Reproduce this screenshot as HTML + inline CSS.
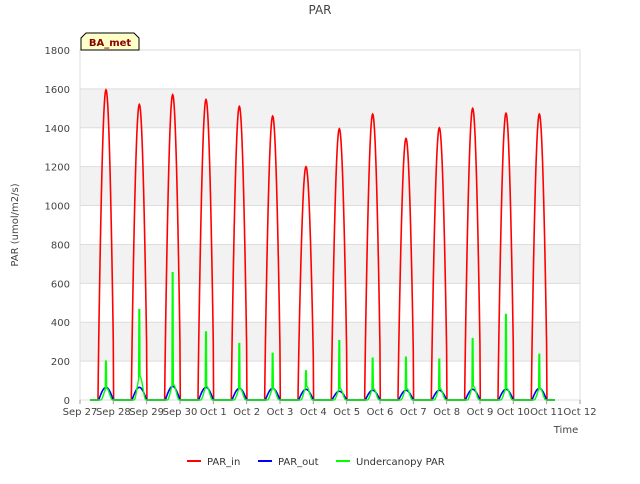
<!DOCTYPE html>
<html><head><meta charset="utf-8"><style>
body{margin:0;background:#fff;font-family:"DejaVu Sans","Liberation Sans",sans-serif}
</style></head><body>
<svg id="chart" width="640" height="480" viewBox="0 0 640 480" xmlns="http://www.w3.org/2000/svg">
<rect width="640" height="480" fill="#fff"/>
<text x="320" y="14" text-anchor="middle" font-size="12" fill="#444">PAR</text>
<g id="grid"></g>
<g id="series"></g>
<g id="axes"></g>
<text transform="translate(18,225) rotate(-90)" text-anchor="middle" font-size="10" fill="#444">PAR (umol/m2/s)</text>
<text x="566" y="433" text-anchor="middle" font-size="10" fill="#444">Time</text>
<g>
<path d="M81,50 L81,38 L86,33 L134,33 L139,38 L139,50 Z" fill="#ffffc8" stroke="#000" stroke-width="1"/>
<text x="110" y="46" text-anchor="middle" font-size="10" font-weight="bold" fill="#8b0000">BA_met</text>
</g>
<g>
<g><line x1="187" y1="461" x2="201" y2="461" stroke="#f00" stroke-width="2"/><text x="207" y="465" font-size="10" fill="#333">PAR_in</text></g>
<g><line x1="258" y1="461" x2="272" y2="461" stroke="#00f" stroke-width="2"/><text x="278" y="465" font-size="10" fill="#333">PAR_out</text></g>
<g><line x1="336" y1="461" x2="350" y2="461" stroke="#0f0" stroke-width="2"/><text x="356" y="465" font-size="10" fill="#333">Undercanopy PAR</text></g>
</g>
</svg>
<script>
const xTickLabels=["Sep 27","Sep 28","Sep 29","Sep 30","Oct 1","Oct 2","Oct 3","Oct 4","Oct 5","Oct 6","Oct 7","Oct 8","Oct 9","Oct 10","Oct 11","Oct 12"];
const yTicks=[0,200,400,600,800,1000,1200,1400,1600,1800];
const parInPeaks=[1595,1520,1570,1545,1510,1460,1200,1395,1470,1345,1400,1500,1475,1470];
const parOutPeaks=[65,65,70,65,60,60,55,45,50,50,50,55,55,60];
const underPeaks=[200,465,655,350,290,240,150,305,215,220,210,315,440,235];
const underBase=[60,120,80,70,60,60,70,60,60,60,60,70,60,60];
const NS="http://www.w3.org/2000/svg";
const X0=80,X1=580,Y0=400,Y1=50;
function xs(d){return X0+(X1-X0)*d/15;}
function ys(v){return Y0-(Y0-Y1)*v/1800;}
function mk(tag,attrs,parent){const e=document.createElementNS(NS,tag);for(const k in attrs)e.setAttribute(k,attrs[k]);parent.appendChild(e);return e;}
const grid=document.getElementById('grid'),axes=document.getElementById('axes'),ser=document.getElementById('series');
for(let i=0;i<yTicks.length-1;i++){
  if(i%2===1){const r=mk('rect',{x:X0,y:ys(yTicks[i+1]),width:X1-X0,height:ys(yTicks[i])-ys(yTicks[i+1]),fill:'#f2f2f2'},grid);
  
  }
}
yTicks.forEach(v=>{
  const l=mk('line',{x1:X0,x2:X1,y1:ys(v),y2:ys(v),stroke:'#ddd'},grid);
  
  
  const t=mk('text',{x:X0-10,y:ys(v)+4,'text-anchor':'end','font-size':10,fill:'#444'},axes);
  t.textContent=v;
  
  
});
mk('rect',{x:X0,y:Y1,width:X1-X0,height:Y0-Y1,fill:'none',stroke:'#ddd'},grid);
xTickLabels.forEach((s,i)=>{
  mk('line',{x1:xs(i),x2:xs(i),y1:Y0,y2:Y0+4,stroke:'#999'},axes);
  const t=mk('text',{x:xs(i),y:Y0+15,'text-anchor':'middle','font-size':10,fill:'#444'},axes);
  t.textContent=s;
  
  
});
function shape(f,a,b,p){if(f<=a||f>=b)return 0;return Math.pow(Math.sin(Math.PI*(f-a)/(b-a)),p);}
function build(fn){let pts=[];const start=0.3,end=14.25,n=Math.round((end-start)*96);
  for(let k=0;k<=n;k++){const t=start+k/96;const d=Math.floor(t),f=t-d;const v=d<parInPeaks.length?fn(d,f):0;pts.push(xs(t).toFixed(2)+','+ys(v).toFixed(2));}
  return pts.join(' ');}
const gIn=mk('polyline',{points:build((d,f)=>parInPeaks[d]*shape(f,0.54,1.02,0.85)),fill:'none',stroke:'#f00','stroke-width':1.6},ser);


const gOut=mk('polyline',{points:build((d,f)=>parOutPeaks[d]*shape(f,0.56,1.0,1.0)),fill:'none',stroke:'#00f','stroke-width':1.6},ser);


const gUn=mk('polyline',{points:build((d,f)=>{let v=underBase[d]*shape(f,0.62,0.98,2);if(Math.abs(f-0.78)<0.012)v=underPeaks[d];return v;}),fill:'none',stroke:'#0f0','stroke-width':1.4},ser);


</script>
</body></html>
